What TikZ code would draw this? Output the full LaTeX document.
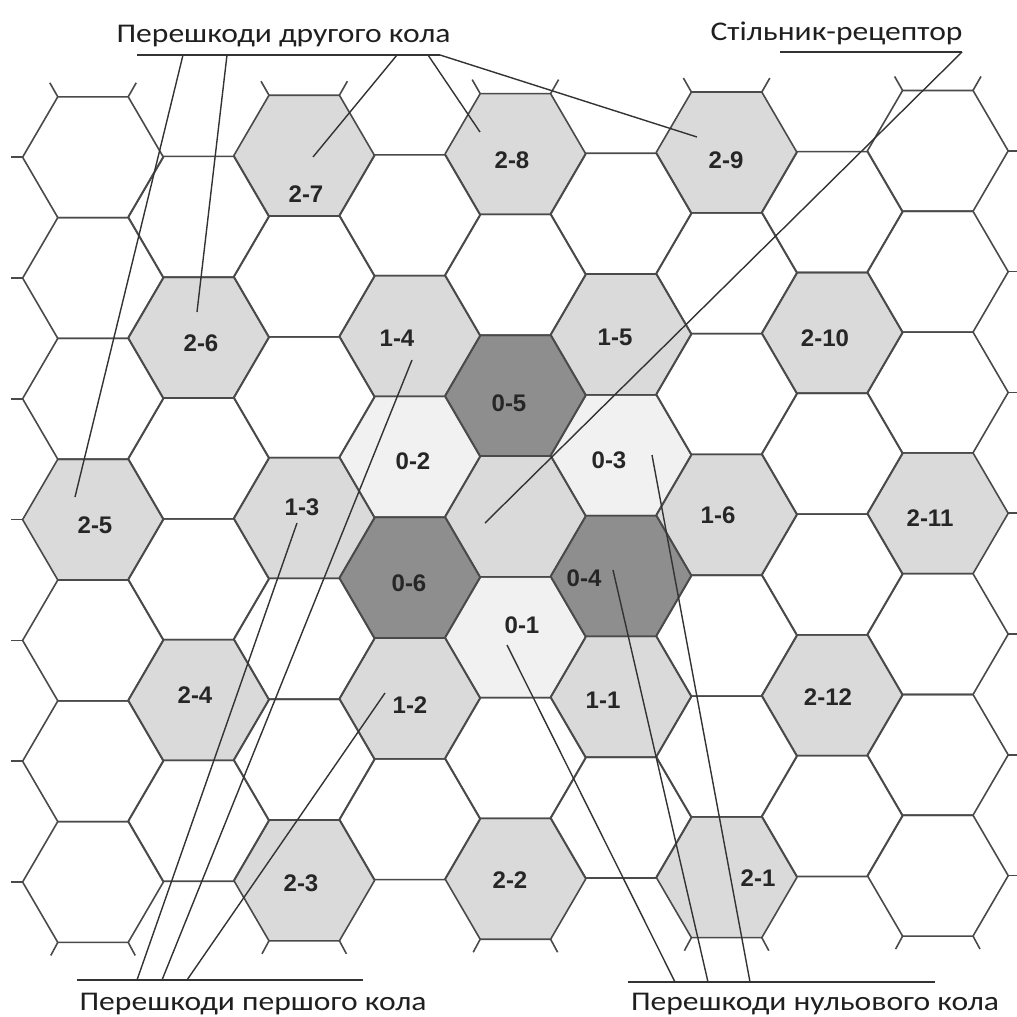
\documentclass[tikz,border=0pt]{standalone}
\usepackage{fontspec}
\setmainfont{Liberation Sans}
\newfontfamily\titlefont[FakeStretch=1.17]{Carlito}
\definecolor{edgegray}{HTML}{4A4A4A}
\definecolor{leadgray}{HTML}{333333}
\definecolor{ringgray}{HTML}{DADADA}
\definecolor{darkcell}{HTML}{8E8E8E}
\definecolor{palecell}{HTML}{F1F1F1}
\newcommand\setcenter[2]{%
  \pgfmathsetmacro\cx{93+105.6*#1}%
  \pgfmathsetmacro\cy{157.2-60.4*mod(#1,2)+120.8*#2-0.0075*(\cx-93)}%
}
\begin{document}
\begin{tikzpicture}[x=1pt,y=-1pt,
  hexedge/.style={draw=edgegray, line width=1.6pt, line join=round},
  stubline/.style={draw=edgegray, line width=1.6pt},
  leader/.style={draw=leadgray, line width=1.4pt},
  cellnum/.style={font=\fontsize{24}{24}\selectfont\bfseries, text=black!85, inner sep=0pt},
  title/.style={font=\titlefont\fontsize{27}{27}\selectfont, text=black!88, inner sep=0pt, anchor=base},
]
\useasboundingbox[fill=white] (0,0) rectangle (1017,1017);

% filled cells
\foreach \k/\j/\c in {2/0/ringgray, 4/0/ringgray, 6/0/ringgray,
  1/2/ringgray, 3/2/ringgray, 5/2/ringgray, 7/2/ringgray,
  4/2/darkcell, 3/3/palecell, 5/3/palecell,
  0/3/ringgray, 2/3/ringgray, 4/3/ringgray, 6/3/ringgray, 8/3/ringgray,
  3/4/darkcell, 5/4/darkcell, 4/4/palecell,
  1/5/ringgray, 3/5/ringgray, 5/5/ringgray, 7/5/ringgray,
  2/6/ringgray, 4/6/ringgray, 6/6/ringgray}{
  \setcenter{\k}{\j}
  \fill[\c] (\cx+70.4,\cy) -- (\cx+35.2,\cy+60.4) -- (\cx-35.2,\cy+60.4) -- (\cx-70.4,\cy) -- (\cx-35.2,\cy-60.4) -- (\cx+35.2,\cy-60.4) -- cycle;
}

% outlines
\foreach \k in {0,...,8}{
  \pgfmathtruncatemacro\jmin{mod(\k,2)}
  \foreach \j in {\jmin,...,6}{
    \setcenter{\k}{\j}
    \draw[hexedge] (\cx+70.4,\cy) -- (\cx+35.2,\cy+60.4) -- (\cx-35.2,\cy+60.4) -- (\cx-70.4,\cy) -- (\cx-35.2,\cy-60.4) -- (\cx+35.2,\cy-60.4) -- cycle;
  }
}

% stubs at the border
\foreach \k in {0,2,4,6,8}{
  \setcenter{\k}{0}
  \draw[stubline] (\cx-35.2,\cy-60.4) -- ++(-8,-14);
  \draw[stubline] (\cx+35.2,\cy-60.4) -- ++(8,-14);
  \setcenter{\k}{6}
  \draw[stubline] (\cx-35.2,\cy+60.4) -- ++(-7,13);
  \draw[stubline] (\cx+35.2,\cy+60.4) -- ++(7,13);
}
\foreach \j in {0,...,6}{
  \setcenter{0}{\j}
  \draw[stubline] (\cx-70.4,\cy) -- ++(-12,0);
  \setcenter{8}{\j}
  \draw[stubline] (\cx+70.4,\cy) -- ++(12,0);
}

% cell labels
\foreach \t/\x/\y in {2-7/306/194, 2-8/512/160, 2-9/726/160,
  2-6/201/343, 1-4/397/338, 1-5/615/337, 2-10/825/338,
  0-5/509/403, 0-2/413/461, 0-3/609/460,
  2-5/95/525, 1-3/302/507, 1-6/718/515, 2-11/930/518,
  0-6/409/583, 0-4/584/578, 0-1/522/625,
  2-4/195/695, 1-2/410/705, 1-1/603/700, 2-12/828/697,
  2-3/301/883, 2-2/510/880, 2-1/758/878}{
  \node[cellnum] (n\t) at (\x,\y) {\t};
}

% titles
\node[title] (tsecond) at (283.5,42) {Перешкоди другого кола};
\node[title] (treceptor) at (836.5,40) {Стільник-рецептор};
\node[title] (tfirst) at (253,1010) {Перешкоди першого кола};
\node[title] (tzero) at (815,1010) {Перешкоди нульового кола};

% under/over lines
\coordinate (ua) at (137,55);  \coordinate (ub) at (440,55);
\coordinate (ra) at (780,52);  \coordinate (rb) at (962,52);
\coordinate (fa) at (77,980);  \coordinate (fb) at (363,980);
\coordinate (za) at (628,982); \coordinate (zb) at (935,982);
\draw[leader] (ua) -- (ub);
\draw[leader] (ra) -- (rb);
\draw[leader] (fa) -- (fb);
\draw[leader] (za) -- (zb);

% leader start points
\coordinate (s1) at (183,55);
\coordinate (s2) at (227,55);
\coordinate (s3) at (397,55);
\coordinate (s4) at (428,55);
\coordinate (f1) at (137,980);
\coordinate (f2) at (162,980);
\coordinate (f3) at (187,980);
\coordinate (z1) at (675,982);
\coordinate (z2) at (708,982);
\coordinate (z3) at (750,982);
% leader end points
\coordinate (e25) at (75,497);
\coordinate (e26) at (197,312);
\coordinate (e27) at (313,157);
\coordinate (e28) at (480,132);
\coordinate (e29) at (697,137);
\coordinate (ec) at (485,523);
\coordinate (e13) at (297,523);
\coordinate (e14) at (412,360);
\coordinate (e12) at (385,693);
\coordinate (e01) at (507,645);
\coordinate (e04) at (613,570);
\coordinate (e03) at (652,455);

\draw[leader] (s1) -- (e25);
\draw[leader] (s2) -- (e26);
\draw[leader] (s3) -- (e27);
\draw[leader] (s4) -- (e28);
\draw[leader] (ub) -- (e29);
\draw[leader] (rb) -- (ec);
\draw[leader] (f1) -- (e13);
\draw[leader] (f2) -- (e14);
\draw[leader] (f3) -- (e12);
\draw[leader] (z1) -- (e01);
\draw[leader] (z2) -- (e04);
\draw[leader] (z3) -- (e03);
\end{tikzpicture}
\end{document}
